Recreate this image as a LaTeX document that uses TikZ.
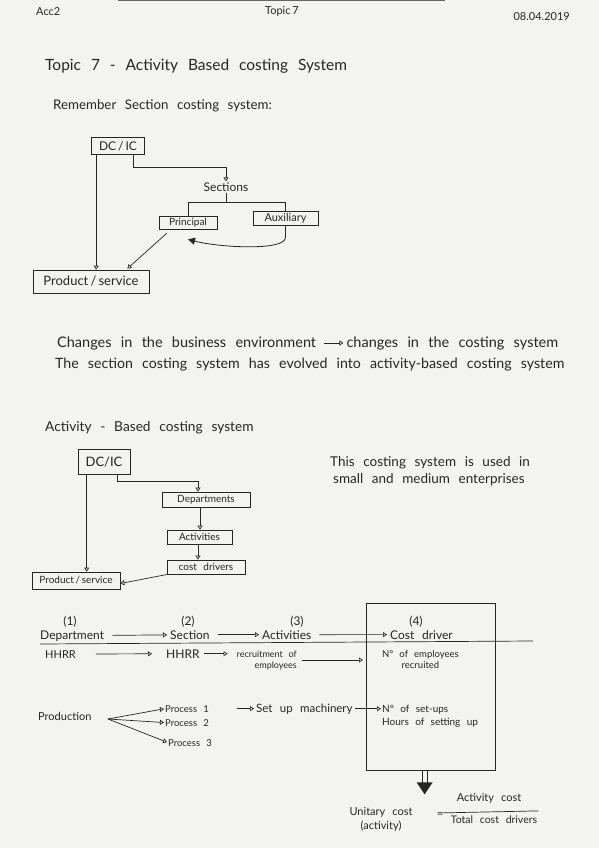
\documentclass[tikz,border=0pt]{standalone}
\usepackage{fontspec}
\setmainfont{Lato}[WordSpace=2.5]
\usepackage{tikz}
\usetikzlibrary{arrows.meta,positioning,calc}
\definecolor{ink}{HTML}{262626}
\definecolor{paper}{HTML}{F3F3F1}
\tikzset{
  fs/.style         = {font=\fontsize{#1}{#1}\selectfont},
  block/.style      = {draw=ink, line width=0.7pt, text=ink, inner sep=1pt, align=center},
  sig/.style        = {-{Triangle[open, length=4pt, width=5pt]}, ink, line width=0.7pt},
  fsig/.style       = {-{Triangle[length=7pt, width=7pt]}, ink, line width=0.8pt},
  wire/.style       = {ink, line width=0.7pt},
  row/.style        = {sig, shorten <=8pt, shorten >=3pt},
  lbl/.style        = {text=ink, inner sep=1pt},
  note/.style       = {text=ink, inner sep=0pt, anchor=base west},
}

\begin{document}
\begin{tikzpicture}[x=1pt, y=-1pt]
  \fill[paper] (0,0) rectangle (599,848);
  \useasboundingbox (0,0) rectangle (599,848);
  \draw[ink!70, line width=1.2pt] (118,0.6) -- (445,0.6);

  % header
  \node[note, fs=11] (acc) at (36,16) {Acc2};
  \node[lbl, fs=11] (topic) at (282,11) {Topic\,7};
  \node[note, fs=11, anchor=base east] (date) at (570,21) {08.04.2019};
  \node[note, fs=15.5] (title) at (45,71) {Topic 7 - Activity Based costing System};
  \node[note, fs=13.3] (remember) at (53,110) {Remember Section costing system:};

  % section costing system
  \node[block, fs=12, minimum width=53, minimum height=17] (dcic1) at (118,146) {DC\,/\,IC};
  \node[lbl, fs=12] (sections) at (226,187) {Sections};
  \node[block, fs=10, minimum width=58, minimum height=13] (princ) at (188,222.5) {Principal};
  \node[block, fs=11, minimum width=65, minimum height=14] (aux) at (285.5,218) {Auxiliary};
  \node[block, fs=13, minimum width=116, minimum height=23] (prod1) at (91,281.5) {Product\,/\,service};
  \coordinate (d1l) at ($(dcic1.south west)+(5,0)$);
  \draw[sig] (d1l) -- (d1l |- prod1.north);
  \draw[sig] ($(dcic1.south east)+(-12,0)$) |- ($(sections.north)+(0,-14)$) -- (sections.north);
  \coordinate (br1) at ($(sections.south)+(0,10)$);
  \draw[wire] (sections.south) -- (br1);
  \draw[wire] (princ.north) |- (br1) -| (aux.north);
  \draw[fsig] (aux.south) -- ++(0,12) .. controls ++(0,14) and ($(princ.south)+(30,18)$) .. ($(princ.south)+(0,10)$);
  \draw[sig] ($(princ.south west)+(8,4)$) -- ($(prod1.north east)+(-22,-1)$);

  % changes
  \node[note, fs=14.5] (chg1) at (57,347) {Changes in the business environment};
  \node[note, fs=14.5, right=30pt of chg1.base east, anchor=base west] (chg2) {changes in the costing system};
  \draw[row] (chg1) -- (chg2);
  \node[note, fs=14.2] (evolve) at (55,368) {The section costing system has evolved into activity-based costing system};

  % activity-based costing system
  \node[note, fs=13.7] (abc) at (45,431) {Activity - Based costing system};
  \node[block, fs=13, minimum width=52, minimum height=25] (dcic2) at (104,461.5) {DC/IC};
  \node[block, fs=10, minimum width=88, minimum height=15] (dept) at (206,499.5) {Departments};
  \node[block, fs=10, minimum width=65, minimum height=14] (act) at (199.5,537) {Activities};
  \node[block, fs=10, minimum width=78, minimum height=14] (drv) at (206,567) {cost drivers};
  \node[block, fs=10, minimum width=88, minimum height=17] (prod2) at (76,580.5) {Product\,/\,service};
  \coordinate (d2l) at ($(dcic2.south west)+(9,0)$);
  \draw[sig] (d2l) -- (d2l |- prod2.north);
  \draw[sig] ($(dcic2.south west)+(40,0)$) |- ($(dept.north)+(-8,-10)$) -- ($(dept.north)+(-8,0)$);
  \draw[sig] ($(dept.south)+(-6,0)$) -- ($(act.north)+(0.5,0)$);
  \draw[sig] ($(act.south)+(-1.5,0)$) -- ($(drv.north)+(-8,0)$);
  \draw[sig] ($(drv.south west)+(1,0)$) -- ($(prod2.east)+(0,3)$);
  \node[note, fs=13.5] (used1) at (330,466) {This costing system is used in};
  \node[note, fs=13.5] (used2) at (333,483) {small and medium enterprises};

  % table
  \foreach \x/\n in {70/1,188/2,297/3,416/4}
    \node[lbl, fs=12] (num\n) at (\x,622) {(\n)};
  \node[note, fs=12] (dep) at (40,639) {Department};
  \node[note, fs=12] (sec) at (170,639) {Section};
  \node[note, fs=12] (acts) at (262,639) {Activities};
  \node[note, fs=12] (cdr) at (390,639) {Cost driver};
  \draw[row] (dep) -- (sec);
  \draw[row] (sec) -- (acts);
  \draw[row] (acts) -- (cdr);
  \draw[wire] ($(dep.base west)+(0,5)$) -- ($(cdr.base east)+(80,2)$);

  \node[note, fs=11] (hr1) at (45,658) {HHRR};
  \node[note, fs=12] (hr2) at (166,658) {HHRR};
  \node[lbl, align=right, anchor=east, font=\fontsize{9}{11}\selectfont] (recr) at (298,660) {recruitment of\\employees};
  \node[lbl, align=center, anchor=west, font=\fontsize{9.5}{11}\selectfont] (nemp) at (381,660) {N° of employees\\recruited};
  \draw[sig, shorten <=20pt, shorten >=14pt] (hr1) -- (hr2);
  \draw[sig, shorten <=4pt, shorten >=8pt] (hr2) -- (hr2 -| recr.west);
  \draw[sig, shorten <=4pt, shorten >=18pt] (recr) -- (nemp);

  \node[draw=ink, line width=0.7pt, minimum width=129, minimum height=167, inner sep=0pt] (col4) at (430.5,686.5) {};

  \node[note, fs=11] (prod) at (38,720) {Production};
  \coordinate (fork) at (108,719);
  \node[note, fs=9.5] (p1) at (165,712) {Process 1};
  \node[note, fs=9.5] (p2) at (165,726) {Process 2};
  \node[note, fs=9.5] (p3) at (168,746) {Process 3};
  \foreach \p in {p1,p2,p3}
    \draw[sig, shorten >=1pt] (fork) -- (\p.west);
  \node[note, fs=11.5] (setup) at (256,712) {Set up machinery};
  \draw[sig, shorten <=28pt, shorten >=2pt] (p1) -- (p1 -| setup.west);
  \node[lbl, align=left, anchor=west, font=\fontsize{10}{13}\selectfont] (nset) at (381,716) {N° of set-ups\\Hours of setting up};
  \draw[sig, shorten <=2pt] (setup) -- (setup -| nset.west);

  % unitary cost
  \coordinate (dn) at ($(col4.south west)+(59,0)$);
  \draw[wire] ($(dn)+(-2.5,0)$) -- ++(0,14);
  \draw[wire] ($(dn)+(2.5,0)$) -- ++(0,14);
  \fill[ink] ($(dn)+(-8,12)$) -- ($(dn)+(8,12)$) -- ($(dn)+(0,24)$) -- cycle;
  \node[lbl, align=center, font=\fontsize{11}{14}\selectfont] (unit) at (381,819) {Unitary cost\\(activity)};
  \node[lbl, fs=11] (eq) at (440,815) {=};
  \node[lbl, fs=11] (num) at (489,798) {Activity cost};
  \node[lbl, fs=10.5] (den) at (494,820) {Total cost drivers};
  \draw[wire] ($(den.north west)+(-8,-2)$) -- ($(den.north east)+(0,-4)$);
\end{tikzpicture}
\end{document}
